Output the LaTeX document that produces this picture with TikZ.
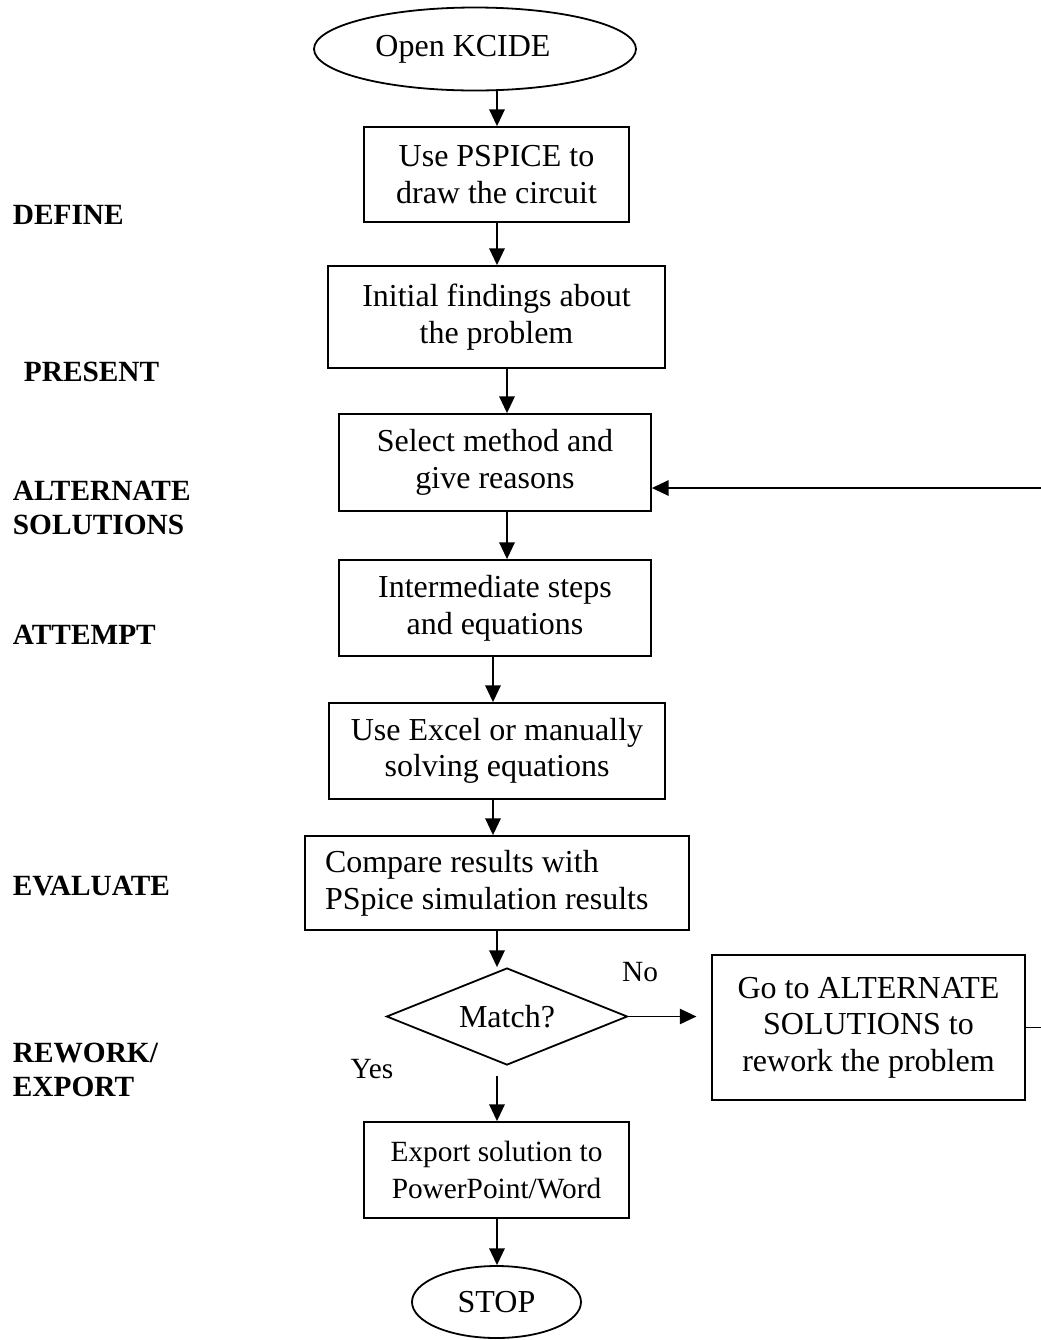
\documentclass[tikz,border=0pt]{standalone}
\usepackage{fontspec}
\setmainfont{Liberation Serif}
\usetikzlibrary{shapes.geometric, arrows.meta}

\begin{document}
\begin{tikzpicture}[x=0.75pt, y=-0.75pt, line width=1.35pt,
    every node/.style={font=\fontsize{24}{27.5}\selectfont, inner sep=0pt},
    proc/.style={draw, rectangle, align=center},
    term/.style={draw, ellipse},
    decide/.style={draw, diamond, aspect=2.5},
    stage/.style={anchor=west, align=left, font=\fontsize{22}{25}\selectfont\bfseries},
    arr/.style={-{Triangle[length=12.5pt, width=11.5pt]}}]
    \useasboundingbox (0, 0) rectangle (1041, 1340);

    % columns of the down arrows
    \coordinate (colA) at (497, 0);
    \coordinate (colB) at (507, 0);
    \coordinate (colC) at (493, 0);

    \node [term, minimum width=241.5pt, minimum height=62.25pt] (open) at (475, 49) {Open KCIDE\hspace*{18pt}};
    \node [proc, minimum width=198.75pt, minimum height=71.25pt] (b1) at (496.5, 174.5) {Use PSPICE to\\draw the circuit};
    \node [proc, minimum width=252.75pt, minimum height=76.5pt] (b2) at (496.5, 317) {Initial findings about\\the problem};
    \node [proc, minimum width=234pt, minimum height=72.75pt] (b3) at (495, 462.5) {Select method and\\give reasons};
    \node [proc, minimum width=234pt, minimum height=72pt] (b4) at (495, 608) {Intermediate steps\\and equations};
    \node [proc, minimum width=252pt, minimum height=72pt] (b5) at (497, 751) {Use Excel or manually\\solving equations};
    \node [proc, align=flush left, text width=258pt, inner xsep=15pt, minimum height=70.5pt] (b6) at (497, 883) {Compare results with\\PSpice simulation results};
    \node [decide, minimum width=180.75pt, minimum height=72.75pt] (match) at (507, 1016.5) {Match?};
    \node [proc, minimum width=234.75pt, minimum height=108.75pt] (alt) at (868.5, 1027.5) {Go to ALTERNATE\\SOLUTIONS to\\rework the problem};
    \node [proc, font=\fontsize{22}{27.5}\selectfont, minimum width=198.75pt, minimum height=72pt] (export) at (496.5, 1170) {Export solution to\\PowerPoint/Word};
    \node [term, minimum width=126.75pt, minimum height=54pt] (stop) at (496.5, 1302) {STOP};

    \node [font=\fontsize{22}{25}\selectfont] (no) at (640, 972) {No};
    \node [font=\fontsize{22}{25}\selectfont] (yes) at (372, 1069) {Yes};

    \node [stage] (define) at (12, 215) {DEFINE};
    \node [stage] (present) at (23, 372) {PRESENT};
    \node [stage] (alternate) at (12, 508) {ALTERNATE\\SOLUTIONS};
    \node [stage] (attempt) at (12, 635) {ATTEMPT};
    \node [stage] (evaluate) at (12, 886) {EVALUATE};
    \node [stage] (rework) at (12, 1070) {REWORK/\\EXPORT};

    \draw [arr] (open.south -| colA) -- (b1.north -| colA);
    \draw [arr] (b1.south -| colA) -- (b2.north -| colA);
    \draw [arr] (b2.south -| colB) -- (b3.north -| colB);
    \draw [arr] (b3.south -| colB) -- (b4.north -| colB);
    \draw [arr] (b4.south -| colC) -- (b5.north -| colC);
    \draw [arr] (b5.south -| colC) -- (b6.north -| colC);
    \draw [arr] (b6.south -| colA) -- (match.north -| colA);
    \draw [arr, shorten <=7.5pt] (match.south -| colA) -- (export.north -| colA);
    \draw [arr] (export.south -| colA) -- (stop.north -| colA);
    \draw [arr, shorten >=11pt] (match.east) -- (match.east -| alt.west);

    % loop back, its upright part lies past the page edge
    \coordinate (back) at (1050, 488);
    \draw [arr] (alt.east) -| (back) -- (back -| b3.east);
\end{tikzpicture}
\end{document}
